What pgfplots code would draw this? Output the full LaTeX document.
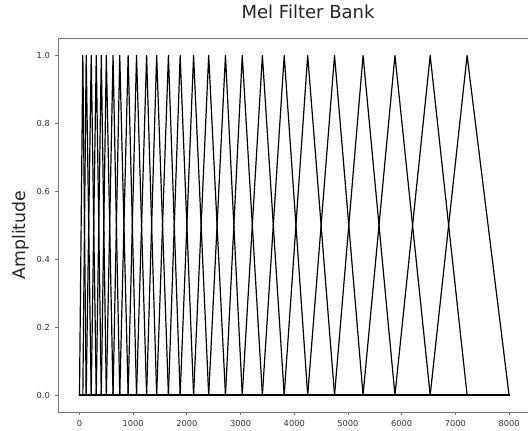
\documentclass[border=0pt]{standalone}
\usepackage{fontspec}
\setmainfont{DejaVu Sans}
\usepackage{pgfplots}
\pgfplotsset{compat=1.18}
\begin{document}
\begin{tikzpicture}
\begin{axis}[
  scale only axis, width=352.5pt, height=280.1pt,
  at={(0,0)}, anchor=south west,
  xmin=-400, xmax=8353, ymin=-0.05, ymax=1.05,
  axis x line*=box, axis y line*=left,
  axis line style={black!55, line width=0.6pt},
  tick align=outside, tick pos=left,
  major tick length=2.6pt,
  tick style={black!55, line width=0.6pt},
  xtick={0,1000,2000,3000,4000,5000,6000,7000,8000},
  ytick={0,0.2,0.4,0.6,0.8,1.0},
  scaled x ticks=false,
  /pgf/number format/assume math mode=true,
  xticklabel style={font=\fontsize{6.2}{7}\selectfont, text=black!80, /pgf/number format/1000 sep={}},
  yticklabel style={font=\fontsize{6.2}{7}\selectfont, text=black!80, /pgf/number format/fixed, /pgf/number format/fixed zerofill, /pgf/number format/precision=1},
  title={Mel Filter Bank},
  title style={at={(0.532,1)}, anchor=base, yshift=9.4pt, font=\fontsize{13.5}{16}\selectfont, text=black!85},
  ylabel={Amplitude},
  ylabel style={at={(-0.0787,0.474)}, anchor=center, font=\fontsize{13}{15}\selectfont, text=black!85},
  cycle list={{black, solid, mark=none}},
  no markers,
  every axis plot/.append style={line width=0.9pt, line join=round, line cap=round},
]
\addplot coordinates {(0,0) (0,0) (62.5,1) (125,0) (8000,0)};
\addplot coordinates {(0,0) (62.5,0) (125,1) (218.75,0) (8000,0)};
\addplot coordinates {(0,0) (125,0) (218.75,1) (312.5,0) (8000,0)};
\addplot coordinates {(0,0) (218.75,0) (312.5,1) (406.25,0) (8000,0)};
\addplot coordinates {(0,0) (312.5,0) (406.25,1) (500,0) (8000,0)};
\addplot coordinates {(0,0) (406.25,0) (500,1) (625,0) (8000,0)};
\addplot coordinates {(0,0) (500,0) (625,1) (750,0) (8000,0)};
\addplot coordinates {(0,0) (625,0) (750,1) (906.25,0) (8000,0)};
\addplot coordinates {(0,0) (750,0) (906.25,1) (1062.5,0) (8000,0)};
\addplot coordinates {(0,0) (906.25,0) (1062.5,1) (1250,0) (8000,0)};
\addplot coordinates {(0,0) (1062.5,0) (1250,1) (1437.5,0) (8000,0)};
\addplot coordinates {(0,0) (1250,0) (1437.5,1) (1656.25,0) (8000,0)};
\addplot coordinates {(0,0) (1437.5,0) (1656.25,1) (1875,0) (8000,0)};
\addplot coordinates {(0,0) (1656.25,0) (1875,1) (2125,0) (8000,0)};
\addplot coordinates {(0,0) (1875,0) (2125,1) (2406.25,0) (8000,0)};
\addplot coordinates {(0,0) (2125,0) (2406.25,1) (2718.75,0) (8000,0)};
\addplot coordinates {(0,0) (2406.25,0) (2718.75,1) (3031.25,0) (8000,0)};
\addplot coordinates {(0,0) (2718.75,0) (3031.25,1) (3406.25,0) (8000,0)};
\addplot coordinates {(0,0) (3031.25,0) (3406.25,1) (3812.5,0) (8000,0)};
\addplot coordinates {(0,0) (3406.25,0) (3812.5,1) (4250,0) (8000,0)};
\addplot coordinates {(0,0) (3812.5,0) (4250,1) (4750,0) (8000,0)};
\addplot coordinates {(0,0) (4250,0) (4750,1) (5281.25,0) (8000,0)};
\addplot coordinates {(0,0) (4750,0) (5281.25,1) (5875,0) (8000,0)};
\addplot coordinates {(0,0) (5281.25,0) (5875,1) (6531.25,0) (8000,0)};
\addplot coordinates {(0,0) (5875,0) (6531.25,1) (7218.75,0) (8000,0)};
\addplot coordinates {(0,0) (6531.25,0) (7218.75,1) (8000,0) (8000,0)};
\end{axis}
\pgfresetboundingbox
\path[use as bounding box] (-43.5pt,-13.5pt) rectangle (352.5pt,309pt);
\end{tikzpicture}
\end{document}
